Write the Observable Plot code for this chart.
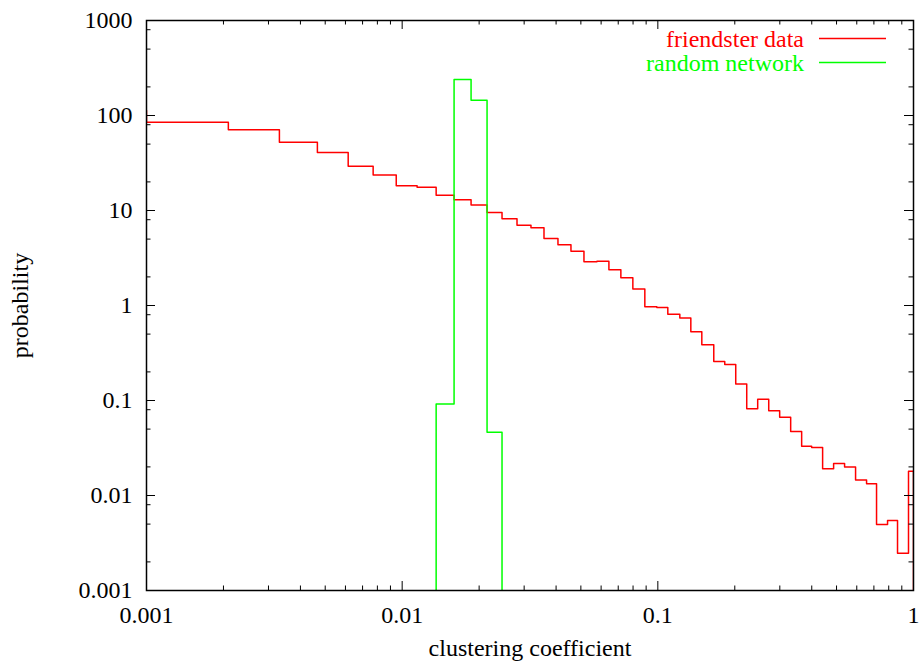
<!DOCTYPE html>
<html>
<head>
<meta charset="utf-8">
<script src="https://cdn.jsdelivr.net/npm/d3@7"></script>
<script src="https://cdn.jsdelivr.net/npm/@observablehq/plot@0.6"></script>
<style>
  html, body { margin: 0; padding: 0; background: #fff; }
  svg { display: block; }
</style>
</head>
<body>
<div id="chart"></div>
<script>
// ---- data (bin left edges, value of the bin starting at that edge) ----
const binEdges = [0.0008, 0.001, 0.00209, 0.00331, 0.00466, 0.00615, 0.0077, 0.00948, 0.01144, 0.01358,
  0.01596, 0.0186, 0.02148, 0.02458, 0.02813, 0.0319, 0.03587, 0.04068, 0.04573, 0.05141,
  0.05779, 0.06436, 0.07168, 0.07985, 0.08895, 0.0991, 0.1094, 0.1219, 0.1346, 0.1486,
  0.1655, 0.1827, 0.2017, 0.2227, 0.2458, 0.2715, 0.2996, 0.3308, 0.3652, 0.3996,
  0.4411, 0.487, 0.5376, 0.5935, 0.6553, 0.7169, 0.7916, 0.866, 0.956, 1.0];
const friendster = [113, 85, 70.6, 52.4, 40.8, 29.3, 23.7, 18.2, 17.6, 14.5,
  13.0, 11.4, 9.5, 8.2, 7.0, 6.6, 5.07, 4.36, 3.73, 2.88,
  2.93, 2.38, 1.96, 1.49, 0.97, 0.95, 0.81, 0.74, 0.53, 0.386,
  0.258, 0.239, 0.149, 0.082, 0.103, 0.078, 0.0667, 0.0472, 0.033, 0.032,
  0.0191, 0.0217, 0.0199, 0.0146, 0.0133, 0.00495, 0.00546, 0.00247, 0.018, 0];
const randomEdges = [0.01144, 0.01358, 0.01596, 0.0186, 0.02148, 0.02458];
const randomNet   = [0, 0.092, 239, 145, 0.0464, 0];

const seriesNames  = ["friendster data", "random network"];
const seriesColors = ["#ff0000", "#00ff00"];

const xTicks = [0.001, 0.01, 0.1, 1];
const xTickLabels = ["0.001", "0.01", "0.1", "1"];
const yTicks = [0.001, 0.01, 0.1, 1, 10, 100, 1000];
const yTickLabels = ["0.001", "0.01", "0.1", "1", "10", "100", "1000"];
const xMinorMultipliers = [2, 3, 4, 5, 6, 7, 8, 9];
const yMinorMultipliers = [2, 5, 8];
const xLabel = "clustering coefficient";
const yLabel = "probability";

// ---- layout ----
const W = 921, H = 663;
const mL = 146, mR = 8, mT = 20, mB = 73;
const innerW = W - mL - mR, innerH = H - mT - mB;
const FLOOR = 1e-6; // stands in for zero on the log axis (clipped)
const FONT = "'Liberation Serif', 'Times New Roman', Times, serif";
const FS = 24;
const majorLen = 9, minorLen = 4.5;

const xMinor = xTicks.slice(0, -1).flatMap(d => xMinorMultipliers.map(m => m * d));
const yMinor = yTicks.slice(0, -1).flatMap(d => yMinorMultipliers.map(m => m * d));

const redData = binEdges.map((x, i) => ({x, y: friendster[i] > 0 ? friendster[i] : FLOOR}));
const greenData = randomEdges.map((x, i) => ({x, y: randomNet[i] > 0 ? randomNet[i] : FLOOR}));

const xTickMarks = (vals, len) => [
  Plot.ruleX(vals, {x: d => d, insetTop: innerH - len, stroke: "black", strokeWidth: 1}),
  Plot.ruleX(vals, {x: d => d, insetBottom: innerH - len, stroke: "black", strokeWidth: 1})
];
const yTickMarks = (vals, len) => [
  Plot.ruleY(vals, {y: d => d, insetRight: innerW - len, stroke: "black", strokeWidth: 1}),
  Plot.ruleY(vals, {y: d => d, insetLeft: innerW - len, stroke: "black", strokeWidth: 1})
];

const chart = Plot.plot({
  width: W,
  height: H,
  marginLeft: mL,
  marginRight: mR,
  marginTop: mT,
  marginBottom: mB,
  style: {fontFamily: FONT, fontSize: FS + "px", background: "#fff", color: "black"},
  x: {type: "log", domain: [0.001, 1]},
  y: {type: "log", domain: [0.001, 1000]},
  marks: [
    Plot.line(redData, {x: "x", y: "y", curve: "step-after", stroke: seriesColors[0], strokeWidth: 1.5, clip: true}),
    Plot.line(greenData, {x: "x", y: "y", curve: "step-after", stroke: seriesColors[1], strokeWidth: 1.5, clip: true}),
    ...xTickMarks(xTicks, majorLen),
    ...xTickMarks(xMinor, minorLen),
    ...yTickMarks(yTicks, majorLen),
    ...yTickMarks(yMinor, minorLen),
    Plot.frame({stroke: "black", strokeWidth: 1.5}),
    Plot.axisX({ticks: xTicks, tickSize: 0, tickPadding: 15, fontSize: FS, label: null,
      tickFormat: d => xTickLabels[xTicks.indexOf(d)]}),
    Plot.axisY({ticks: yTicks, tickSize: 0, tickPadding: 14, fontSize: FS, label: null,
      tickFormat: d => yTickLabels[yTicks.indexOf(d)]}),
    Plot.text([xLabel], {frameAnchor: "bottom", dy: 65, lineAnchor: "bottom", textAnchor: "middle",
      fontSize: FS, text: d => d, fill: "black"}),
    Plot.text([yLabel], {frameAnchor: "left", dx: -119, dy: 0, rotate: -90, lineAnchor: "bottom",
      textAnchor: "middle", fontSize: FS, text: d => d, fill: "black"})
  ]
});

// ---- legend (inside plot, top-right, gnuplot style) ----
const svg = d3.select(chart);
const lg = svg.append("g").attr("class", "legend");
seriesNames.forEach((name, i) => {
  lg.append("text")
    .attr("x", 804).attr("y", 46.5 + 24 * i)
    .attr("text-anchor", "end")
    .attr("fill", seriesColors[i])
    .style("font-family", FONT).style("font-size", FS + "px")
    .text(name);
  lg.append("line")
    .attr("x1", 819).attr("x2", 886)
    .attr("y1", 38.5 + 24 * i).attr("y2", 38.5 + 24 * i)
    .attr("stroke", seriesColors[i]).attr("stroke-width", 1.5);
});

document.getElementById("chart").appendChild(chart);
</script>
</body>
</html>
